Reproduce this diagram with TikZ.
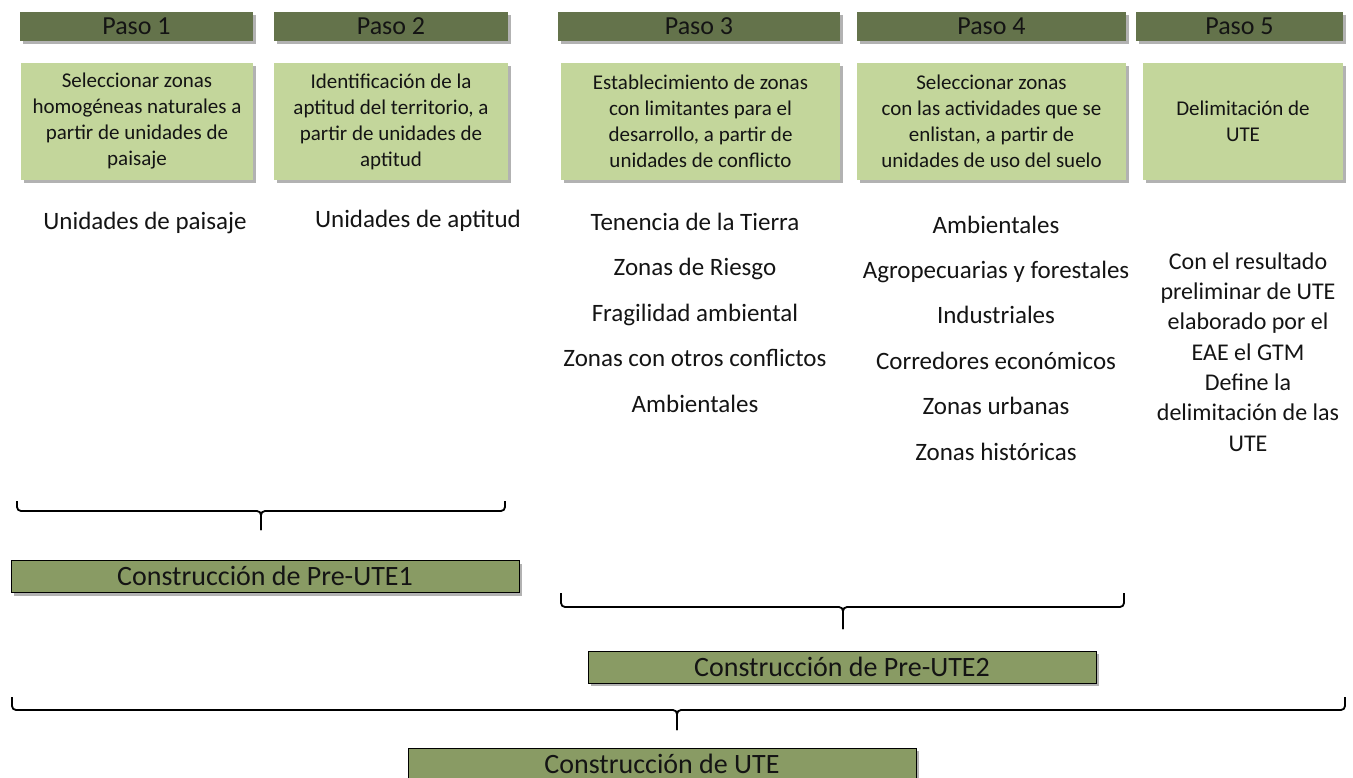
\documentclass[tikz,border=0pt]{standalone}
\usepackage{fontspec}
\setmainfont{Carlito}
\usetikzlibrary{shadows}

\definecolor{pasofill}{RGB}{100,115,75}
\definecolor{tareafill}{RGB}{195,214,155}
\definecolor{constfill}{RGB}{137,155,100}
\definecolor{uttext}{RGB}{20,20,20}

\begin{document}
\begin{tikzpicture}[
  x=1pt,
  y=-1pt,
  every node/.style={inner sep=0pt, outer sep=0pt, text=uttext},
  boxshadow/.style={drop shadow={shadow xshift=3pt, shadow yshift=-3pt, fill=black, opacity=0.3}},
  pasobar/.style={fill=pasofill, boxshadow, minimum height=29pt, font=\fontsize{26}{28}\selectfont},
  tareabox/.style={fill=tareafill, boxshadow, minimum height=117pt, align=center, font=\fontsize{21}{26}\selectfont},
  constbox/.style={draw=black, line width=1pt, fill=constfill, boxshadow, minimum width=508pt, minimum height=32pt,
    text height=18pt, text depth=0pt, font=\fontsize{28}{30}\selectfont},
  itemtext/.style={font=\fontsize{25}{30}\selectfont, text height=18pt, text depth=6pt},
  notetext/.style={font=\fontsize{24}{30.3}\selectfont, align=center},
  bracket/.style={draw=black, line width=1.8pt, rounded corners=4pt}
]

  \clip (0,0) rectangle (1353,777);

  % Paso headers
  \node[pasobar, minimum width=233pt] (paso1) at (136.5,26.5) {Paso 1};
  \node[pasobar, minimum width=234pt] (paso2) at (391,26.5) {Paso 2};
  \node[pasobar, minimum width=282pt] (paso3) at (699,26.5) {Paso 3};
  \node[pasobar, minimum width=269pt] (paso4) at (991.5,26.5) {Paso 4};
  \node[pasobar, minimum width=207pt] (paso5) at (1239.5,26.5) {Paso 5};

  % Task boxes
  \node[tareabox, minimum width=232pt] (tarea1) at (137,121.5)
    {Seleccionar zonas\\homogéneas naturales a\\partir de unidades de\\paisaje};
  \node[tareabox, minimum width=234pt] (tarea2) at (391,121.5)
    {Identificación de la\\aptitud del territorio, a\\partir de unidades de\\aptitud};
  \node[tareabox, minimum width=279pt] (tarea3) at (700.5,121.5)
    {Establecimiento de zonas\\con limitantes para el\\desarrollo, a partir de\\unidades de conflicto};
  \node[tareabox, minimum width=269pt] (tarea4) at (991.5,121.5)
    {Seleccionar zonas\\con las actividades que se\\enlistan, a partir de\\unidades de uso del suelo};
  \node[tareabox, minimum width=200pt] (tarea5) at (1243,121.5)
    {Delimitación de\\UTE};

  % Inputs per step
  \node[itemtext] (unid1) at (145,223) {Unidades de paisaje};
  \node[itemtext] (unid2) at (418,221) {Unidades de aptitud};

  \foreach \txt [count=\i] in {Tenencia de la Tierra, Zonas de Riesgo, Fragilidad ambiental,
      Zonas con otros conflictos, Ambientales}
    \node[itemtext] (conf\i) at (695,{224+45.5*(\i-1)}) {\txt};

  \foreach \txt [count=\i] in {Ambientales, Agropecuarias y forestales, Industriales,
      Corredores económicos, Zonas urbanas, Zonas históricas}
    \node[itemtext] (uso\i) at (996,{227+45.4*(\i-1)}) {\txt};

  \node[notetext] (nota5) at (1248,352)
    {Con el resultado\\preliminar de UTE\\elaborado por el\\EAE el GTM\\Define la\\delimitación de las\\UTE};

  % Construction boxes
  \node[constbox] (preute1) at (265,576.5) {Construcción de Pre-UTE1};
  \node[constbox] (preute2) at (842,667) {Construcción de Pre-UTE2};
  \node[constbox] (ute) at (662,764) {Construcción de UTE};

  % Brackets
  \coordinate (b1l) at (17,501);
  \coordinate (b1r) at (505,501);
  \coordinate (b1m) at (261,511);
  \coordinate (b1t) at (261,530);
  \draw[bracket] (b1l) |- (b1m) -- (b1t);
  \draw[bracket] (b1r) |- (b1m) -- (b1t);

  \coordinate (b2l) at (561,593);
  \coordinate (b2r) at (1124,593);
  \coordinate (b2m) at (843,607);
  \coordinate (b2t) at (843,629);
  \draw[bracket] (b2l) |- (b2m) -- (b2t);
  \draw[bracket] (b2r) |- (b2m) -- (b2t);

  \coordinate (b3l) at (12,697);
  \coordinate (b3r) at (1345,697);
  \coordinate (b3m) at (677,710);
  \coordinate (b3t) at (677,730);
  \draw[bracket] (b3l) |- (b3m) -- (b3t);
  \draw[bracket] (b3r) |- (b3m) -- (b3t);

\end{tikzpicture}
\end{document}
